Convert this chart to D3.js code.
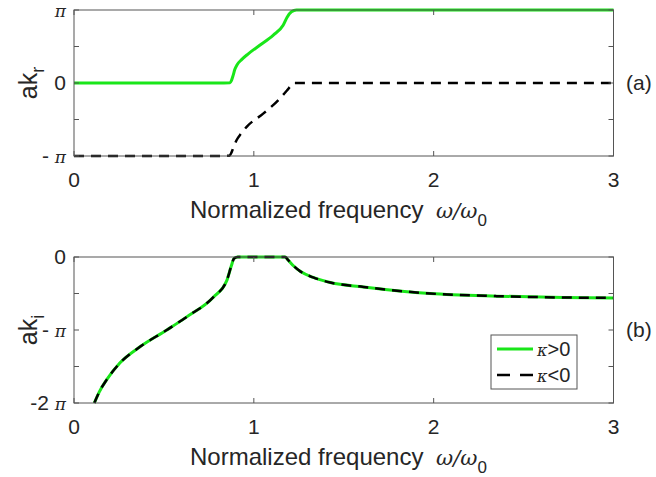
<!DOCTYPE html>
<html>
<head>
<meta charset="utf-8">
<script src="https://cdn.jsdelivr.net/npm/d3@7"></script>
<style>
  body { margin: 0; background: #fff; }
  text { font-family: "Liberation Sans", Arial, sans-serif; fill: #262626; }
  .tex { font-family: "DejaVu Serif", "Liberation Serif", serif; font-style: italic; }
</style>
</head>
<body>
<div id="chart"></div>
<script>
// panel (a): real part of ak, in units of pi
var freqRPos = [0, 0.4, 0.8, 0.868, 0.876, 0.885, 0.894, 0.907, 0.932, 0.969, 1.033, 1.107, 1.163, 1.185, 1.209, 1.237, 1.6, 2, 2.5, 3];
var akrPos = [0, 0, 0, 0.003, 0.037, 0.105, 0.185, 0.25, 0.32, 0.40, 0.517, 0.654, 0.79, 0.9, 0.975, 1, 1, 1, 1, 1];
var freqRNeg = [0, 0.4, 0.8, 0.865, 0.876, 0.89, 0.903, 0.93, 0.96, 1.052, 1.144, 1.185, 1.209, 1.225, 1.6, 2, 2.5, 3];
var akrNeg = [-1, -1, -1, -0.995, -0.95, -0.86, -0.787, -0.69, -0.6, -0.42, -0.215, -0.1, -0.03, 0, 0, 0, 0, 0];

// panel (b): imaginary part of ak, in units of pi (same for both signs of kappa)
var freqI = [0.113, 0.14, 0.182, 0.256, 0.367, 0.516, 0.627, 0.775, 0.85, 0.875, 0.89, 0.91, 1.0, 1.1, 1.174, 1.19, 1.22, 1.26, 1.33, 1.425, 1.61, 1.98, 2.35, 2.72, 3.0];
var akImag = [-2, -1.85, -1.68, -1.45, -1.23, -1.0, -0.82, -0.55, -0.32, -0.12, -0.02, 0, 0, 0, 0, -0.04, -0.12, -0.2, -0.28, -0.35, -0.41, -0.5, -0.536, -0.555, -0.56];

var xTicks = [0, 1, 2, 3];
var yTicksA = [-1, -0.5, 0, 0.5, 1];
var yLabelsA = {"-1": ["- ", "π"], "0": ["0", ""], "1": ["", "π"]};
var yTicksB = [-2, -1.5, -1, -0.5, 0];
var yLabelsB = {"-2": ["-2 ", "π"], "-1": ["- ", "π"], "0": ["0", ""]};

var width = 656, height = 477;
var svg = d3.select("#chart").append("svg")
    .attr("width", width)
    .attr("height", height);

var x = d3.scaleLinear().domain([0, 3]).range([74, 613.5]);
var axisColor = "#555";
var green = "#19e619";

function drawPanel(top, bottom, yDomain, yTicks, yLabels, ySub, tag, series, legend) {
    var y = d3.scaleLinear().domain(yDomain).range([bottom, top]);
    var g = svg.append("g");

    var clipId = "clip" + tag;
    g.append("clipPath").attr("id", clipId)
        .append("rect")
        .attr("x", x(0)).attr("y", top - 2)
        .attr("width", x(3) - x(0) + 2).attr("height", bottom - top + 4);

    var line = d3.line()
        .x(function(d) { return x(d[0]); })
        .y(function(d) { return y(d[1]); })
        .curve(d3.curveMonotoneX);

    series.forEach(function(s) {
        g.append("path")
            .datum(d3.zip(s.xs, s.ys))
            .attr("clip-path", "url(#" + clipId + ")")
            .attr("fill", "none")
            .attr("stroke", s.color)
            .attr("stroke-width", s.width)
            .attr("stroke-dasharray", s.dash || null)
            .attr("d", line);
    });

    // box
    g.append("rect")
        .attr("x", x(0)).attr("y", top)
        .attr("width", x(3) - x(0)).attr("height", bottom - top)
        .attr("fill", "none").attr("stroke", axisColor).attr("stroke-width", 1);

    // x ticks (inward, bottom and top)
    xTicks.forEach(function(t) {
        g.append("line").attr("x1", x(t)).attr("x2", x(t))
            .attr("y1", bottom).attr("y2", bottom - 5)
            .attr("stroke", axisColor);
        g.append("line").attr("x1", x(t)).attr("x2", x(t))
            .attr("y1", top).attr("y2", top + 5)
            .attr("stroke", axisColor);
        g.append("text")
            .attr("x", x(t)).attr("y", bottom + 31)
            .attr("text-anchor", "middle")
            .style("font-size", "21px")
            .text(t);
    });

    // y ticks (inward, left and right)
    yTicks.forEach(function(t) {
        g.append("line").attr("x1", x(0)).attr("x2", x(0) + 5)
            .attr("y1", y(t)).attr("y2", y(t))
            .attr("stroke", axisColor);
        g.append("line").attr("x1", x(3)).attr("x2", x(3) - 5)
            .attr("y1", y(t)).attr("y2", y(t))
            .attr("stroke", axisColor);
        var lab = yLabels[String(t)];
        if (lab) {
            var tx = g.append("text")
                .attr("x", x(0) - 8).attr("y", y(t) + 7)
                .attr("text-anchor", "end")
                .style("font-size", "21px");
            tx.append("tspan").text(lab[0]);
            if (lab[1]) tx.append("tspan").attr("class", "tex").style("font-size", "17px").text(lab[1]);
        }
    });

    // y label
    var yl = g.append("text")
        .attr("transform", "translate(37," + ((top + bottom) / 2) + ") rotate(-90)")
        .attr("text-anchor", "middle")
        .style("font-size", "25px");
    yl.append("tspan").text("ak");
    yl.append("tspan").attr("dy", 7).style("font-size", "18px").text(ySub);

    // x label
    var xl = g.append("text")
        .attr("x", 190).attr("y", bottom + 62)
        .style("font-size", "24px");
    xl.append("tspan").text("Normalized frequency ");
    xl.append("tspan").attr("class", "tex").attr("dx", 6).style("font-size", "21px").text("ω/ω");
    xl.append("tspan").attr("dy", 8).style("font-size", "17px").text("0");

    // panel tag
    g.append("text")
        .attr("x", 626).attr("y", (top + bottom) / 2 + 7)
        .style("font-size", "21px")
        .text("(" + tag + ")");

    if (legend) {
        var lg = g.append("g");
        lg.append("rect")
            .attr("x", 491).attr("y", 335)
            .attr("width", 86).attr("height", 54)
            .attr("fill", "#fff").attr("stroke", axisColor);
        legend.forEach(function(item, i) {
            var ly = 349 + i * 26;
            lg.append("line")
                .attr("x1", 497).attr("x2", 533)
                .attr("y1", ly).attr("y2", ly)
                .attr("stroke", item.color)
                .attr("stroke-width", item.width)
                .attr("stroke-dasharray", item.dash || null);
            var lt = lg.append("text")
                .attr("x", 537).attr("y", ly + 7)
                .style("font-size", "20px");
            lt.append("tspan").attr("class", "tex").style("font-size", "16px").text("κ");
            lt.append("tspan").text(item.label);
        });
    }
}

drawPanel(10, 156, [-1, 1], yTicksA, yLabelsA, "r", "a", [
    {xs: freqRPos, ys: akrPos, color: green, width: 3},
    {xs: freqRNeg, ys: akrNeg, color: "#000", width: 2.5, dash: "10,7"}
]);

drawPanel(257, 403, [-2, 0], yTicksB, yLabelsB, "i", "b", [
    {xs: freqI, ys: akImag, color: green, width: 3},
    {xs: freqI, ys: akImag, color: "#000", width: 2.5, dash: "10,7"}
], [
    {label: ">0", color: green, width: 3},
    {label: "<0", color: "#000", width: 2.5, dash: "13,10"}
]);
</script>
</body>
</html>
